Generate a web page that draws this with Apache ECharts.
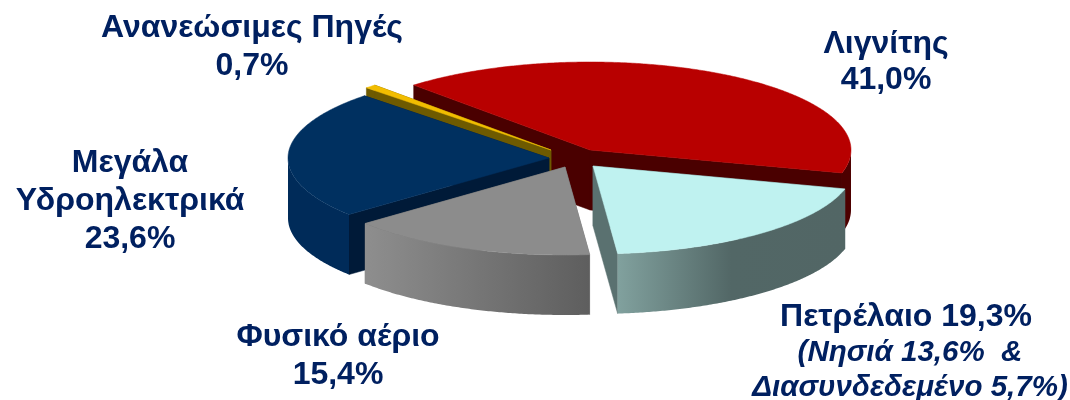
<!DOCTYPE html>
<html>
<head>
<meta charset="utf-8">
<style>html,body{margin:0;padding:0;background:#fff}#c{width:1070px;height:400px}</style>
<script src="https://cdn.jsdelivr.net/npm/echarts@6/dist/echarts.min.js"></script>
</head>
<body>
<div id="c"></div>
<script>
// Data, in clockwise order from the top-left edge of the first slice
const categories = ['Λιγνίτης', 'Πετρέλαιο', 'Φυσικό αέριο', 'Μεγάλα Υδροηλεκτρικά', 'Ανανεώσιμες Πηγές'];
const shares = [41.0, 19.3, 15.4, 23.6, 0.7];

// Labels
const labelLignite = ['Λιγνίτης', '41,0%'];
const labelOil = ['Πετρέλαιο 19,3%'];
const labelOilDetail = ['(Νησιά 13,6%  &', 'Διασυνδεδεμένο 5,7%)'];
const labelGas = ['Φυσικό αέριο', '15,4%'];
const labelHydro = ['Μεγάλα', 'Υδροηλεκτρικά', '23,6%'];
const labelRenewables = ['Ανανεώσιμες Πηγές', '0,7%'];

// Look
const pie = { rx: 261, ry: 88, depth: 60, start: 132.5 };
const apexX = [590, 593, 565, 549, 551];
const apexY = [150, 166, 167, 158, 150];
const paintOrder = [0, 4, 3, 2, 1];
const topColors = ['#b80000', '#bff2f0', '#8c8c8c', '#003060', '#f2bd00'];
const cutColors = ['#4a0000', '#5a7170', '#6a6a6a', '#001a38', '#6e5a00'];
const wallStops = [
  [[0, '#4d0000'], [1, '#4d0000']],
  [[0, '#81a19e'], [0.5, '#526766'], [1, '#526665']],
  [[0, '#8e8e8e'], [1, '#5e5e5e']],
  [[0, '#002b59'], [1, '#002b59']],
  [[0, '#6e5a00'], [1, '#6e5a00']]
];
const textColor = '#002060';
const fontFamily = '"Liberation Sans", Arial, sans-serif';

const total = shares.reduce((a, b) => a + b, 0);
const startAngles = [];
shares.reduce((acc, v, i) => { startAngles[i] = acc; return acc - v / total * 360; }, pie.start);

function rim(i, deg, dy) {
  const r = deg * Math.PI / 180;
  return [apexX[i] + pie.rx * Math.cos(r), apexY[i] - pie.ry * Math.sin(r) + (dy || 0)];
}

function renderItem(params, api) {
  const i = params.dataIndex;
  const sweep = api.value(1) / total * 360;
  const a0 = startAngles[i], a1 = a0 - sweep;
  const base = paintOrder.indexOf(i) * 10;
  const arc = [];
  const n = Math.max(2, Math.ceil(sweep * 2));
  for (let k = 0; k <= n; k++) arc.push(a0 - sweep * k / n);
  const top = [[apexX[i], apexY[i]]].concat(arc.map(a => rim(i, a)));
  const p0 = [apexX[i], apexY[i]];
  const p1 = [apexX[i], apexY[i] + pie.depth];
  const children = [];
  [a0, a1].forEach(a => {
    children.push({
      type: 'polygon', z2: base + 1,
      shape: { points: [p0, rim(i, a), rim(i, a, pie.depth), p1] },
      style: { fill: cutColors[i], stroke: cutColors[i], lineWidth: 0.5 }
    });
  });
  const front = arc.filter(a => Math.sin(a * Math.PI / 180) <= 0);
  if (front.length > 1) {
    const pts = front.map(a => rim(i, a)).concat(front.slice().reverse().map(a => rim(i, a, pie.depth)));
    children.push({
      type: 'polygon', z2: base + 2,
      shape: { points: pts },
      style: {
        fill: new echarts.graphic.LinearGradient(0, 0, 1, 0,
          wallStops[i].map(s => ({ offset: s[0], color: s[1] })))
      }
    });
  }
  children.push({
    type: 'polygon', z2: base + 3,
    shape: { points: top },
    style: { fill: topColors[i], stroke: topColors[i], lineWidth: 0.5 }
  });
  return { type: 'group', children };
}

function textEl(lines, x, y, size, lh, italic) {
  return {
    type: 'text', x, y, silent: true,
    style: {
      text: lines.join('\n'), fill: textColor, align: 'center', verticalAlign: 'top',
      font: (italic ? 'italic ' : '') + 'bold ' + size + 'px ' + fontFamily,
      lineHeight: lh
    }
  };
}

const chart = echarts.init(document.getElementById('c'), null, { renderer: 'canvas' });
chart.setOption({
  animation: false,
  backgroundColor: '#ffffff',
  series: [{
    type: 'custom',
    coordinateSystem: 'none',
    renderItem,
    clip: false,
    silent: true,
    data: categories.map((name, i) => ({ name, value: [i, shares[i]] }))
  }],
  graphic: [
    textEl(labelRenewables, 252, 9, 32, 38),
    textEl(labelLignite, 886, 26, 32, 36),
    textEl(labelHydro, 130, 144, 32, 38),
    textEl(labelGas, 338, 318, 32, 38),
    textEl(labelOil, 906, 299, 32, 36),
    textEl(labelOilDetail, 910, 335, 29.5, 35, true)
  ]
});
</script>
</body>
</html>
